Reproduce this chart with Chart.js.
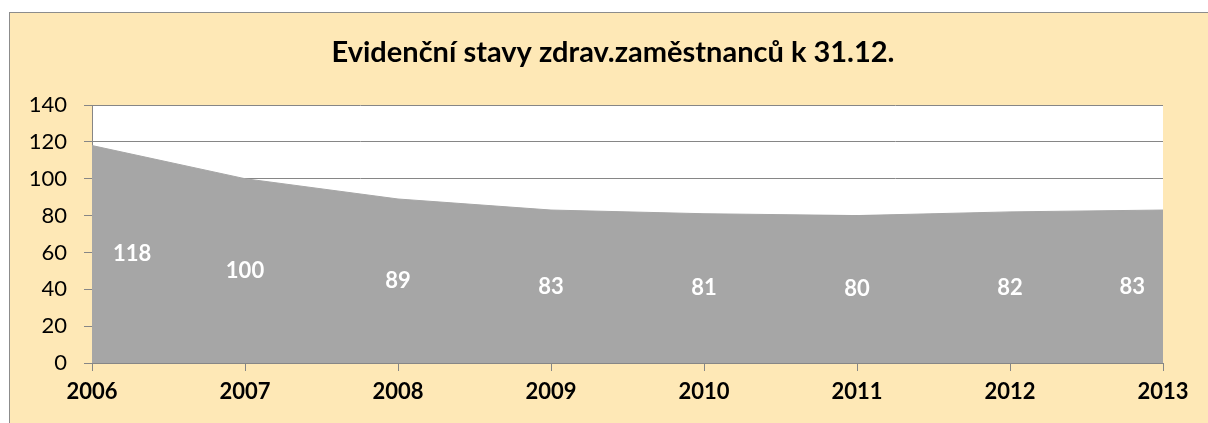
<!DOCTYPE html>
<html>
<head>
<meta charset="utf-8">
<script src="https://cdn.jsdelivr.net/npm/chart.js@4"></script>
<style>
    body { margin: 0; background: #ffffff; }
    #frame {
        position: absolute; left: 9px; top: 12px; width: 1300px; height: 500px;
        background: #fee8b6; border-left: 1px solid #8c8c8c; border-top: 1px solid #8c8c8c;
    }
    #wrap { position: absolute; left: 0; top: 0; width: 1208px; height: 423px; }
</style>
</head>
<body>
<div id="frame"></div>
<div id="wrap"><canvas id="chart"></canvas></div>
<script>
const years = ['2006', '2007', '2008', '2009', '2010', '2011', '2012', '2013']
const staff = [118, 100, 89, 83, 81, 80, 82, 83]
const yTicks = [0, 20, 40, 60, 80, 100, 120, 140]
const chartTitle = 'Evidenční stavy zdrav.zaměstnanců k 31.12.'

const fontFamily = 'Lato, "Open Sans", sans-serif'

// white plot area
const plotBg = {
    id: 'plotBg',
    beforeDraw(chart) {
        const { ctx, chartArea } = chart
        ctx.save()
        ctx.fillStyle = '#ffffff'
        ctx.fillRect(chartArea.left, chartArea.top, chartArea.right - chartArea.left, chartArea.bottom - chartArea.top)
        ctx.restore()
    }
}

// title centred on the whole frame, not the plot
const titleText = {
    id: 'titleText',
    afterDraw(chart) {
        const { ctx } = chart
        ctx.save()
        ctx.fillStyle = '#000000'
        ctx.font = 'bold 29px ' + fontFamily
        ctx.textAlign = 'center'
        ctx.textBaseline = 'alphabetic'
        ctx.fillText(chartTitle, 613, 62)
        ctx.restore()
    }
}

// labels in the middle of the area, like excel does
const midLabels = {
    id: 'midLabels',
    afterDatasetsDraw(chart) {
        const { ctx } = chart
        const yScale = chart.scales.y
        const meta = chart.getDatasetMeta(0)
        ctx.save()
        ctx.fillStyle = '#ffffff'
        ctx.font = 'bold 22px ' + fontFamily
        ctx.textBaseline = 'middle'
        meta.data.forEach((pt, i) => {
            const v = staff[i]
            let x = pt.x
            ctx.textAlign = 'center'
            if (i === 0) { ctx.textAlign = 'left'; x = pt.x + 21 }
            if (i === staff.length - 1) { ctx.textAlign = 'right'; x = pt.x - 18 }
            ctx.fillText(v, x, yScale.getPixelForValue(v / 2))
        })
        ctx.restore()
    }
}

const ctx = document.getElementById('chart').getContext('2d')
new Chart(ctx, {
    type: 'line',
    data: {
        labels: years,
        datasets: [{
            data: staff,
            fill: 'origin',
            backgroundColor: '#a6a6a6',
            borderColor: '#a6a6a6',
            borderWidth: 1,
            pointRadius: 0,
            tension: 0
        }]
    },
    options: {
        responsive: true,
        maintainAspectRatio: false,
        animation: false,
        layout: { padding: { top: 105, left: 0, right: 45, bottom: 0 } },
        plugins: {
            legend: { display: false },
            tooltip: { enabled: false },
            title: { display: false }
        },
        scales: {
            x: {
                offset: false,
                grid: { drawOnChartArea: false, drawTicks: true, tickLength: 8, color: '#868686' },
                border: { color: '#868686' },
                ticks: {
                    color: '#000000',
                    maxRotation: 0,
                    padding: 8,
                    font: { family: fontFamily, size: 22, weight: 'bold' }
                },
                afterFit(scale) { scale.height = 60 }
            },
            y: {
                min: 0,
                max: 140,
                afterBuildTicks(scale) { scale.ticks = yTicks.map(v => ({ value: v })) },
                grid: { color: '#868686', tickLength: 8 },
                border: { color: '#868686' },
                ticks: {
                    color: '#000000',
                    padding: 17,
                    font: { family: fontFamily, size: 22 }
                },
                afterFit(scale) { scale.width = 92 }
            }
        }
    },
    plugins: [plotBg, titleText, midLabels]
})
</script>
</body>
</html>
